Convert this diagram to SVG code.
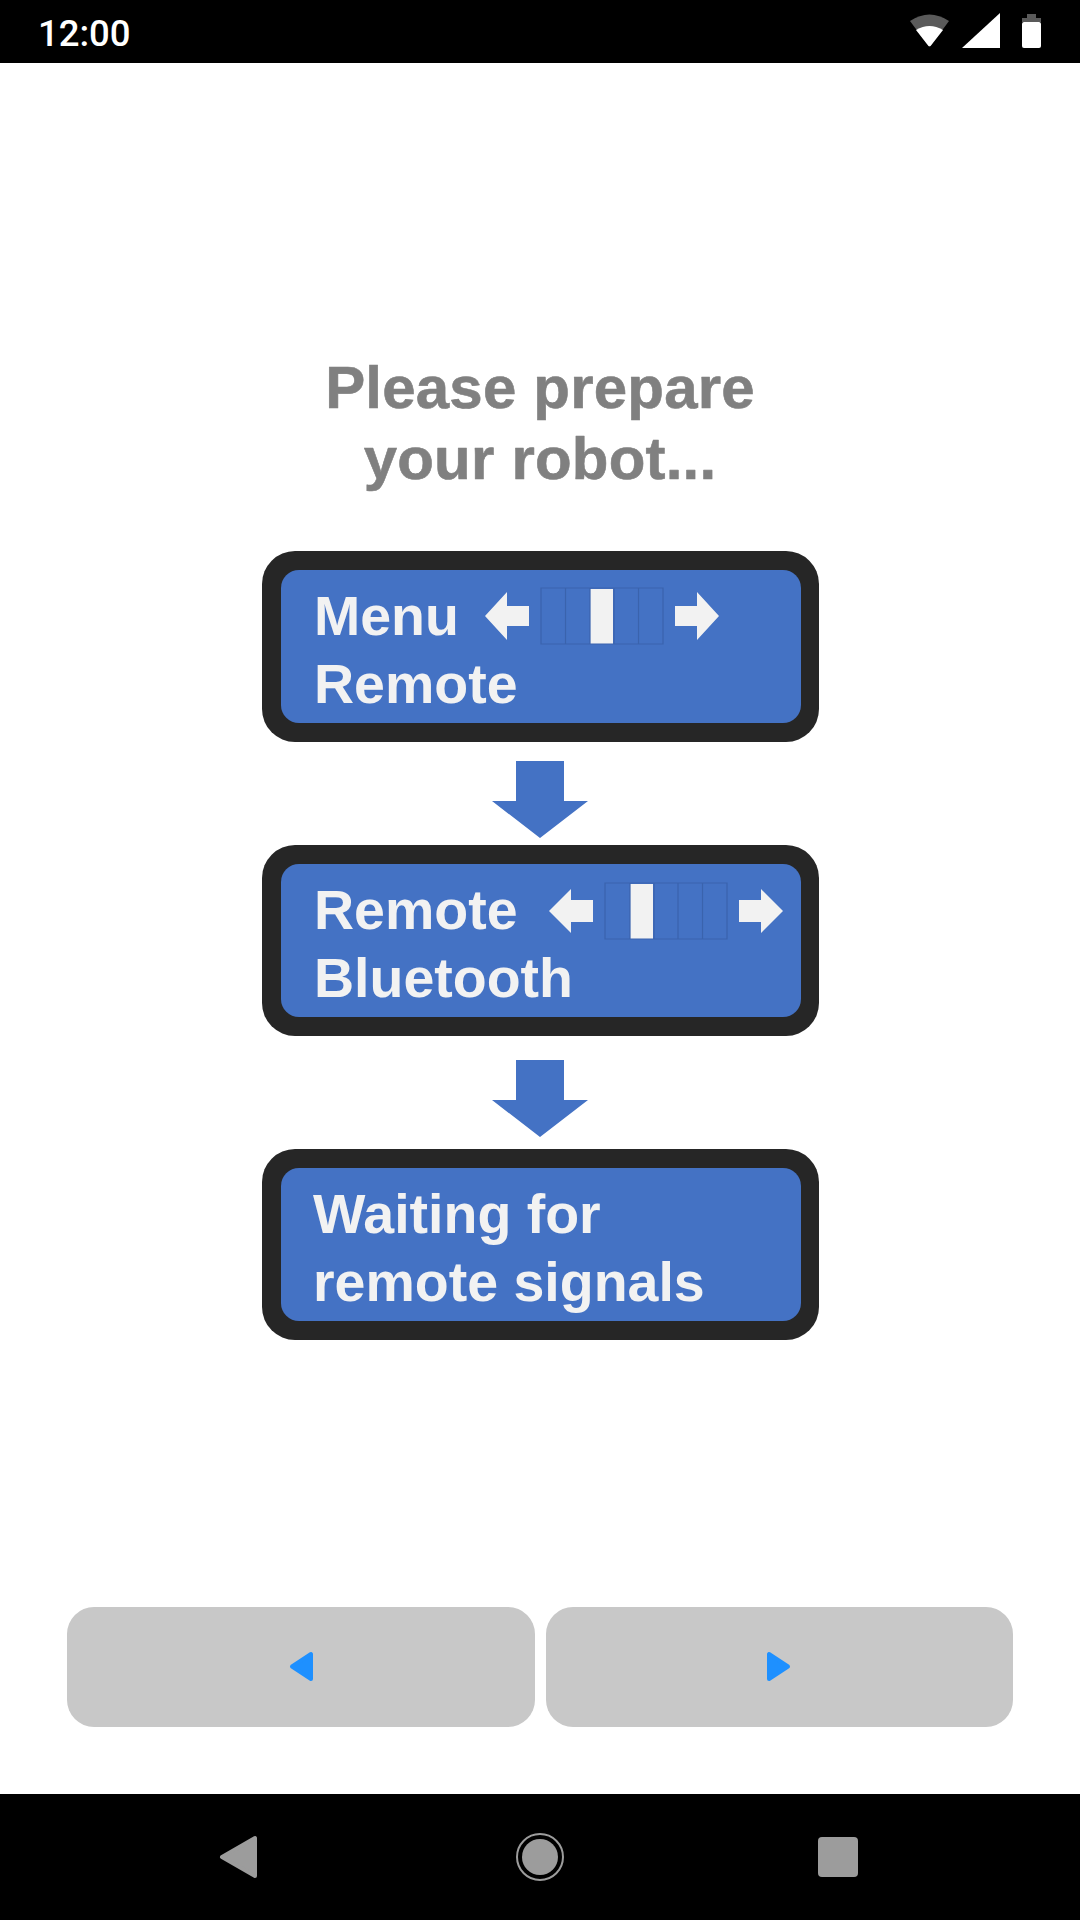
<svg xmlns="http://www.w3.org/2000/svg" width="1080" height="1920" viewBox="0 0 1080 1920">
<style>
.t{font-family:"Liberation Sans",Arial,sans-serif;font-weight:700;stroke-linejoin:round}
.title{font-size:60px;fill:#808080;text-anchor:middle;stroke:#808080;stroke-width:.6px;letter-spacing:.2px}
.lab{font-size:55.500px;fill:#f2f2f2}
.outer{fill:#262626}
.inner{fill:#4472c4}
.w{fill:#f2f2f2}
.cell{fill:none;stroke:#3a63ad;stroke-width:1.2}
.btn{fill:#c8c8c8}
.tri{fill:#1e90ff;stroke:#1e90ff;stroke-width:4;stroke-linejoin:round}
.nav{fill:#9c9c9c}
</style>
<rect width="1080" height="1920" fill="#fff"/>
<g id="status-bar">
<rect width="1080" height="63" fill="#000"/>
<text x="38" y="46" style="font-family:Roboto,sans-serif;font-weight:500;font-size:36.500px;fill:#fff">12:00</text>
<path d="M910 21Q929.500 8 949 21L930.500 46Q929.500 46.500 928.500 46Z" fill="#5a5a5a"/>
<path d="M916 30Q929.500 22 943 30L930.500 46Q929.500 46.500 928.500 46Z" fill="#fff"/>
<path d="M1000 13V48H962Z" fill="#fff"/>
<path d="M1027 18V14H1036V18H1041V22H1022V18Z" fill="#5a5a5a"/>
<rect x="1022" y="22" width="19" height="26" rx="2" fill="#fff"/>
</g>
<g id="title">
<text x="540" y="408" class="t title">Please prepare</text>
<text x="540" y="479" class="t title">your robot...</text>
</g>
<g id="node-menu">
<rect class="outer" x="262" y="551" width="557" height="191" rx="33"/>
<rect class="inner" x="281" y="570" width="520" height="153" rx="18"/>
<text x="314" y="635" class="t lab">Menu</text>
<text x="314" y="703" class="t lab">Remote</text>
<path class="w" d="M485 616L507 592V606H529V626H507V640Z"/>
<rect class="w" x="590" y="589" width="23" height="55"/>
<path class="cell" d="M541 588H663V644H541ZM565.500 588V644M590 588V644M614 588V644M638.500 588V644"/>
<path class="w" d="M719 616L697 592V606H675V626H697V640Z"/>
</g>
<g id="node-remote">
<rect class="outer" x="262" y="845" width="557" height="191" rx="33"/>
<rect class="inner" x="281" y="864" width="520" height="153" rx="18"/>
<text x="314" y="929" class="t lab">Remote</text>
<text x="314" y="997" class="t lab">Bluetooth</text>
<path class="w" d="M549 911L571 889V900H593V922H571V933Z"/>
<rect class="w" x="630" y="884" width="23" height="55"/>
<path class="cell" d="M605 883H727V939H605ZM630 883V939M654 883V939M678 883V939M702.500 883V939"/>
<path class="w" d="M783 911L761 889V900H739V922H761V933Z"/>
</g>
<g id="node-waiting">
<rect class="outer" x="262" y="1149" width="557" height="191" rx="33"/>
<rect class="inner" x="281" y="1168" width="520" height="153" rx="18"/>
<text x="313" y="1233" class="t lab">Waiting for</text>
<text x="313" y="1301" class="t lab">remote signals</text>
</g>
<g id="connectors">
<path class="inner" d="M516 761H564V801H588L540 838L492 801H516Z"/>
<path class="inner" d="M516 1060H564V1100H588L540 1137L492 1100H516Z"/>
</g>
<g id="buttons">
<rect class="btn" x="67" y="1607" width="468" height="120" rx="27"/>
<rect class="btn" x="546" y="1607" width="467" height="120" rx="27"/>
<path class="tri" d="M311 1654V1679L292 1666.500Z"/>
<path class="tri" d="M769 1654V1679L788 1666.500Z"/>
</g>
<g id="nav-bar">
<rect y="1794" width="1080" height="126" fill="#000"/>
<path class="nav" d="M255 1838V1876L222 1857Z" stroke="#9c9c9c" stroke-width="4" stroke-linejoin="round"/>
<circle cx="540" cy="1857" r="23" fill="none" stroke="#9c9c9c" stroke-width="2"/>
<circle cx="540" cy="1857" r="18" class="nav"/>
<rect class="nav" x="818" y="1837" width="40" height="40" rx="4"/>
</g>
</svg>
